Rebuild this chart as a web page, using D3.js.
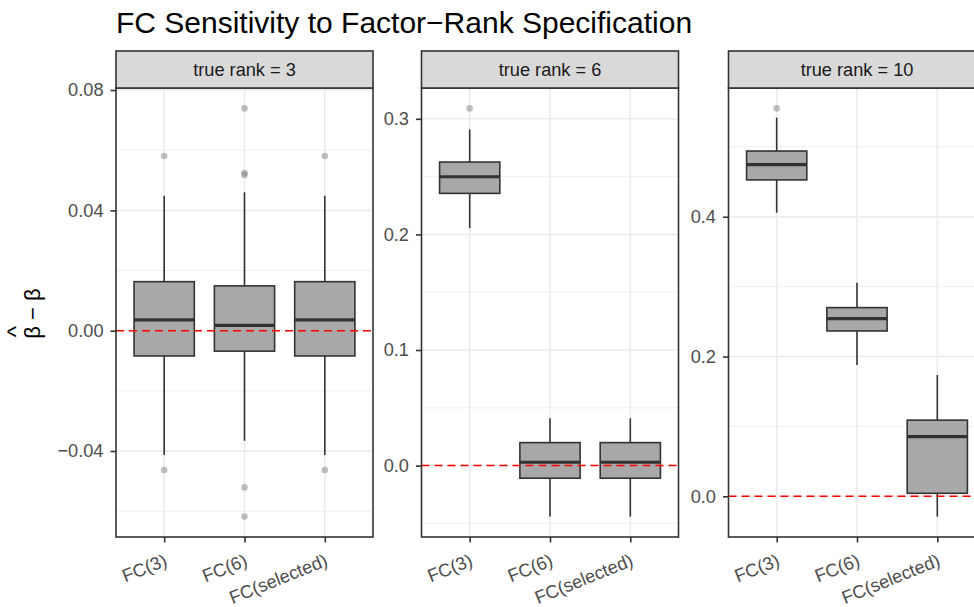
<!DOCTYPE html>
<html>
<head>
<meta charset="utf-8">
<script src="https://cdn.jsdelivr.net/npm/d3@7/dist/d3.min.js" charset="utf-8"></script>
<style>
  body { margin: 0; background: #fff; }
  text { font-family: "Liberation Sans", Arial, sans-serif; }
</style>
</head>
<body>
<div id="chart"></div>
<script>

    var methods = ["FC(3)", "FC(6)", "FC(selected)"];
    var rankLabels = ["true rank = 3", "true rank = 6", "true rank = 10"];

    // boxplot stats, one row per panel, one entry per method
    var lowerWhisker = [[-0.0413, -0.0366, -0.0413], [0.2054, -0.0441, -0.0441], [0.4057, 0.1880, -0.0290]];
    var lowerHinge   = [[-0.0084, -0.0068, -0.0084], [0.2355, -0.0109, -0.0109], [0.4527, 0.2366, 0.0043]];
    var medians      = [[ 0.0036,  0.0018,  0.0036], [0.2499,  0.0029,  0.0029], [0.4746, 0.2543, 0.0853]];
    var upperHinge   = [[ 0.0163,  0.0149,  0.0163], [0.2626,  0.0199,  0.0199], [0.4940, 0.2700, 0.1090]];
    var upperWhisker = [[ 0.0449,  0.0460,  0.0449], [0.2908,  0.0410,  0.0410], [0.5418, 0.3055, 0.1735]];

    // [panel, method, value]
    var outliers = [
        [0, 0, 0.0581], [0, 0, -0.0463],
        [0, 1, 0.0739], [0, 1, 0.0524], [0, 1, 0.0518], [0, 1, -0.0521], [0, 1, -0.0618],
        [0, 2, 0.0581], [0, 2, -0.0463],
        [1, 0, 0.3090],
        [2, 0, 0.5550]
    ];

    var yTicks = [[-0.04, 0.00, 0.04, 0.08], [0.0, 0.1, 0.2, 0.3], [0.0, 0.2, 0.4]];
    var yTickFormat = [".2f", ".1f", ".1f"];

    var width = 974;
    var height = 607;
    var panelLeft = [116, 421.5, 728.5];
    var panelWidth = 257;
    var stripTop = 51, panelTop = 88, panelBottom = 537;
    var dark = '#333333';
    var fontSize = 18.2;

    var svg = d3.select('#chart').append('svg')
        .attr('width', width)
        .attr('height', height);

    var fmtMinus = function(f) {
        var base = d3.format(f);
        return function(v) { return base(v).replace('-', '\u2212'); };
    };

    svg.append('text')
        .attr('x', 116)
        .attr('y', 33)
        .attr('font-size', 30)
        .attr('fill', '#000')
        .text('FC Sensitivity to Factor\u2212Rank Specification');

    // y axis title: hat(beta) - beta
    var yTitle = svg.append('g')
        .attr('transform', 'translate(40,313.5) rotate(-90)');
    yTitle.append('text')
        .attr('text-anchor', 'middle')
        .attr('font-size', 22)
        .attr('fill', '#000')
        .text('\u03b2 \u2212 \u03b2');
    yTitle.append('text')
        .attr('x', -18)
        .attr('y', -16)
        .attr('text-anchor', 'middle')
        .attr('font-size', 24)
        .attr('fill', '#000')
        .text('^');

    rankLabels.forEach(function(label, p) {
        var x0 = panelLeft[p];

        var x = d3.scalePoint()
            .domain(methods)
            .range([x0, x0 + panelWidth])
            .padding(0.6);

        var vals = lowerWhisker[p].concat(upperWhisker[p]);
        outliers.forEach(function(o) { if (o[0] === p) vals.push(o[2]); });
        var ext = d3.extent(vals);
        var pad = (ext[1] - ext[0]) * 0.05;

        var y = d3.scaleLinear()
            .domain([ext[0] - pad, ext[1] + pad])
            .range([panelBottom, panelTop]);

        var g = svg.append('g').attr('class', 'panel');

        g.append('rect')
            .attr('x', x0).attr('y', panelTop)
            .attr('width', panelWidth).attr('height', panelBottom - panelTop)
            .attr('fill', '#fff');

        // minor gridlines
        var ticks = yTicks[p];
        var step = ticks[1] - ticks[0];
        var minor = [];
        for (var v = ticks[0] - step / 2; v <= y.domain()[1]; v += step) {
            if (v >= y.domain()[0]) minor.push(v);
        }
        g.selectAll('line.minor')
            .data(minor)
            .enter().append('line')
            .attr('x1', x0).attr('x2', x0 + panelWidth)
            .attr('y1', function(d) { return y(d); })
            .attr('y2', function(d) { return y(d); })
            .attr('stroke', '#EBEBEB')
            .attr('stroke-width', 0.8);

        g.selectAll('line.major')
            .data(ticks)
            .enter().append('line')
            .attr('x1', x0).attr('x2', x0 + panelWidth)
            .attr('y1', function(d) { return y(d); })
            .attr('y2', function(d) { return y(d); })
            .attr('stroke', '#EBEBEB')
            .attr('stroke-width', 1.5);

        g.selectAll('line.vgrid')
            .data(methods)
            .enter().append('line')
            .attr('x1', function(d) { return x(d); })
            .attr('x2', function(d) { return x(d); })
            .attr('y1', panelTop).attr('y2', panelBottom)
            .attr('stroke', '#EBEBEB')
            .attr('stroke-width', 1.5);

        var boxW = x.step() * 0.75;

        var boxes = g.selectAll('g.box')
            .data(methods)
            .enter().append('g')
            .attr('class', 'box');

        boxes.append('line')
            .attr('x1', function(d) { return x(d); })
            .attr('x2', function(d) { return x(d); })
            .attr('y1', function(d, i) { return y(upperWhisker[p][i]); })
            .attr('y2', function(d, i) { return y(upperHinge[p][i]); })
            .attr('stroke', dark).attr('stroke-width', 1.6);

        boxes.append('line')
            .attr('x1', function(d) { return x(d); })
            .attr('x2', function(d) { return x(d); })
            .attr('y1', function(d, i) { return y(lowerHinge[p][i]); })
            .attr('y2', function(d, i) { return y(lowerWhisker[p][i]); })
            .attr('stroke', dark).attr('stroke-width', 1.6);

        boxes.append('rect')
            .attr('x', function(d) { return x(d) - boxW / 2; })
            .attr('width', boxW)
            .attr('y', function(d, i) { return y(upperHinge[p][i]); })
            .attr('height', function(d, i) { return y(lowerHinge[p][i]) - y(upperHinge[p][i]); })
            .attr('fill', '#A8A8A8')
            .attr('stroke', dark).attr('stroke-width', 1.6);

        boxes.append('line')
            .attr('x1', function(d) { return x(d) - boxW / 2; })
            .attr('x2', function(d) { return x(d) + boxW / 2; })
            .attr('y1', function(d, i) { return y(medians[p][i]); })
            .attr('y2', function(d, i) { return y(medians[p][i]); })
            .attr('stroke', dark).attr('stroke-width', 3.2);

        g.selectAll('circle.outlier')
            .data(outliers.filter(function(o) { return o[0] === p; }))
            .enter().append('circle')
            .attr('cx', function(d) { return x(methods[d[1]]); })
            .attr('cy', function(d) { return y(d[2]); })
            .attr('r', 3.3)
            .attr('fill', '#7F7F7F')
            .attr('fill-opacity', 0.5);

        // reference line at zero
        g.append('line')
            .attr('x1', x0).attr('x2', x0 + panelWidth)
            .attr('y1', y(0)).attr('y2', y(0))
            .attr('stroke', '#FF0000')
            .attr('stroke-width', 1.5)
            .attr('stroke-dasharray', '8,5');

        g.append('rect')
            .attr('x', x0).attr('y', panelTop)
            .attr('width', panelWidth).attr('height', panelBottom - panelTop)
            .attr('fill', 'none')
            .attr('stroke', dark).attr('stroke-width', 1.6);

        // strip
        g.append('rect')
            .attr('x', x0).attr('y', stripTop)
            .attr('width', panelWidth).attr('height', panelTop - stripTop)
            .attr('fill', '#D9D9D9')
            .attr('stroke', dark).attr('stroke-width', 1.6);
        g.append('text')
            .attr('x', x0 + panelWidth / 2)
            .attr('y', (stripTop + panelTop) / 2 + 6.5)
            .attr('text-anchor', 'middle')
            .attr('font-size', fontSize)
            .attr('fill', '#1A1A1A')
            .text(label);

        // axes
        var yAxis = g.append('g')
            .attr('transform', 'translate(' + x0 + ',0)')
            .call(d3.axisLeft(y).tickValues(ticks).tickFormat(fmtMinus(yTickFormat[p])).tickSize(5.5).tickPadding(7));
        yAxis.select('.domain').remove();
        yAxis.selectAll('line').attr('stroke', dark).attr('stroke-width', 1.6);
        yAxis.selectAll('text')
            .attr('font-size', fontSize)
            .attr('fill', '#4D4D4D')
            .attr('font-family', '"Liberation Sans", Arial, sans-serif');

        var xAxis = g.append('g')
            .attr('transform', 'translate(0,' + panelBottom + ')')
            .call(d3.axisBottom(x).tickSize(5.5));
        xAxis.select('.domain').remove();
        xAxis.selectAll('line').attr('stroke', dark).attr('stroke-width', 1.6);
        xAxis.selectAll('text')
            .attr('font-size', fontSize)
            .attr('fill', '#4D4D4D')
            .attr('font-family', '"Liberation Sans", Arial, sans-serif')
            .attr('text-anchor', 'end')
            .attr('x', 0).attr('y', 0).attr('dy', '0.75em')
            .attr('transform', 'translate(-1.5,15.5) rotate(-22)');
    });

</script>
</body>
</html>
